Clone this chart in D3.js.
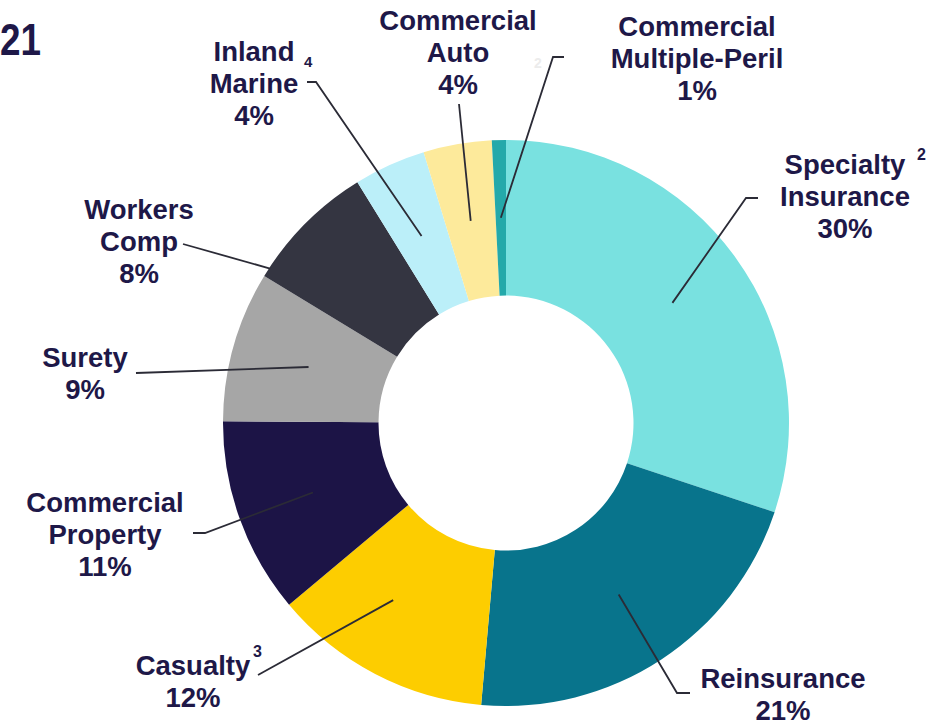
<!doctype html>
<html lang="en">
<head>
    <meta charset="UTF-8">
    <title>Donut</title>
    <style>
        body { margin: 0; background: #fff; }
        #chart text {
            font-family: "Liberation Sans", Arial, sans-serif;
            font-weight: bold;
            fill: #1e1848;
        }
        #chart .leader {
            fill: none;
            stroke: #2b2b36;
            stroke-width: 1.8;
        }
    </style>
</head>
<body>
<svg id="chart" width="938" height="724"></svg>

<script src="https://cdn.jsdelivr.net/npm/d3@7"></script>
<script>
    // data (share of total, %)
    var categories = ['Specialty Insurance', 'Reinsurance', 'Casualty', 'Commercial Property',
        'Surety', 'Workers Comp', 'Inland Marine', 'Commercial Auto', 'Commercial Multiple-Peril'];
    var values = [30.1, 21.3, 12.5, 11.2, 8.6, 7.5, 4.1, 3.9, 0.8];
    var pctLabels = ['30%', '21%', '12%', '11%', '9%', '8%', '4%', '4%', '1%'];
    var labelLines = [
        ['Specialty', 'Insurance'],
        ['Reinsurance'],
        ['Casualty'],
        ['Commercial', 'Property'],
        ['Surety'],
        ['Workers', 'Comp'],
        ['Inland', 'Marine'],
        ['Commercial', 'Auto'],
        ['Commercial', 'Multiple-Peril']
    ];
    var footnotes = ['2', '', '3', '', '', '', '4', '', ''];
    var colors = ['#79e1e0', '#08748c', '#fdcd00', '#1c1446', '#a6a6a6',
        '#343541', '#bbeff9', '#fdea9b', '#24a9aa'];

    // label placement: x/y = centre & first baseline, elbow = leader points,
    // t/r = where the leader touches the slice (fraction of slice angle, radius)
    var layout = [
        { x: 845, y: 174, elbow: [[758, 198], [746, 198]], sup: [917, 160, 16] },
        { x: 783, y: 688, elbow: [[690, 693], [677, 693]] },
        { x: 193, y: 675, elbow: [[258, 675]], t: 0.61, r: 210, sup: [253, 657, 16] },
        { x: 105, y: 512, elbow: [[193, 533], [205, 533]] },
        { x: 85, y: 367, elbow: [[136, 373]] },
        { x: 139, y: 219, elbow: [[183, 244]], t: 0.07, r: 282 },
        { x: 254, y: 61, elbow: [[307, 82], [316, 82]], sup: [304, 67, 15] },
        { x: 458, y: 30, elbow: [[459, 104]] },
        { x: 697, y: 36, elbow: [[564, 57], [553, 57]] }
    ];

    var cx = 506, cy = 423, outerR = 283, innerR = 127.5, lineH = 32;

    var svg = d3.select('#chart');

    // cut-off title number in the corner
    svg.append('text')
        .attr('x', 0).attr('y', 55)
        .attr('textLength', 41).attr('lengthAdjust', 'spacingAndGlyphs')
        .style('font-size', '44px')
        .text('21');

    var data = categories.map(function(c, i) { return { name: c, value: values[i], i: i }; });

    var pie = d3.pie().sort(null).value(function(d) { return d.value; });
    var arcs = pie(data);

    var arc = d3.arc().innerRadius(innerR).outerRadius(outerR);

    var g = svg.append('g').attr('transform', 'translate(' + cx + ',' + cy + ')');

    g.selectAll('path.slice')
        .data(arcs)
        .enter()
        .append('path')
        .attr('class', 'slice')
        .attr('d', arc)
        .attr('fill', function(d) { return colors[d.data.i]; });

    // leader lines
    arcs.forEach(function(a, i) {
        var L = layout[i];
        var t = L.t != null ? L.t : 0.5;
        var r = L.r != null ? L.r : (innerR + outerR) / 2;
        var ang = a.startAngle + (a.endAngle - a.startAngle) * t;
        var end = [cx + r * Math.sin(ang), cy - r * Math.cos(ang)];
        var pts = L.elbow.concat([end]);
        svg.append('path')
            .attr('class', 'leader')
            .attr('d', d3.line()(pts));
    });

    // labels
    layout.forEach(function(L, i) {
        var lines = labelLines[i].concat([pctLabels[i]]);
        var txt = svg.append('text')
            .attr('text-anchor', 'middle')
            .style('font-size', '27.5px');
        lines.forEach(function(s, k) {
            txt.append('tspan')
                .attr('x', L.x)
                .attr('y', L.y + k * lineH)
                .text(s);
        });
        if (L.sup && footnotes[i]) {
            svg.append('text')
                .attr('x', L.sup[0]).attr('y', L.sup[1])
                .style('font-size', L.sup[2] + 'px')
                .text(footnotes[i]);
        }
    });

    // faint stray footnote mark near the Multiple-Peril leader
    svg.append('text')
        .attr('x', 534).attr('y', 68)
        .style('font-size', '14px')
        .style('fill', '#ececec')
        .text('2');
</script>
</body>
</html>
